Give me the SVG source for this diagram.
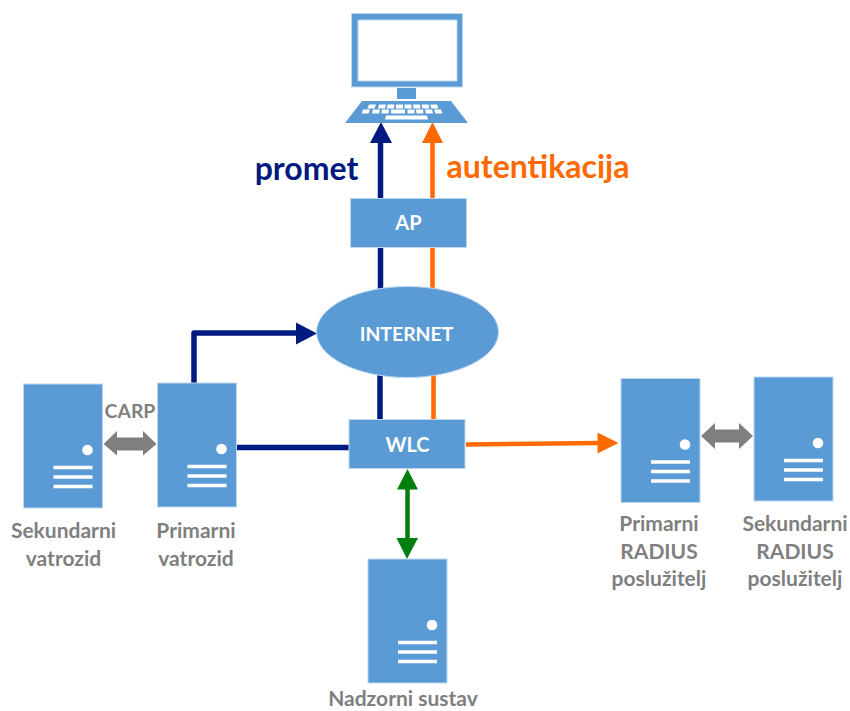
<svg xmlns="http://www.w3.org/2000/svg" xmlns:xlink="http://www.w3.org/1999/xlink" width="850" height="711" viewBox="0 0 850 711">
<style>
text{font-family:Lato,"Open Sans","Liberation Sans",sans-serif;font-weight:700;text-anchor:middle}
.w{fill:#fff;font-size:20px}
.g{fill:#7f7f7f;font-size:21px}
.b{fill:#5b9bd5;stroke:#bdd7ee;stroke-width:1}
.n{fill:none;stroke:#001a80;stroke-width:5.5;stroke-linejoin:round}
.o{fill:none;stroke:#ff6a00;stroke-width:4.5}
</style>
<defs>
<g id="srv">
<rect class="b" x="0" y="0" width="79" height="124"/>
<circle cx="64" cy="66" r="5.3" fill="#fff"/>
<path d="M30 83.5H69M30 93H69M30 102.5H69" stroke="#fff" stroke-width="3.5" fill="none"/>
</g>
</defs>
<g id="connectors">
<path class="n" d="M380.500 200V140"/>
<path fill="#001a80" d="M381 122L370 143H392Z"/>
<path class="o" d="M432.500 200V140"/>
<path fill="#ff6a00" d="M432.500 122L422 143H443Z"/>
<path class="n" d="M380.500 247V295"/>
<path class="o" d="M432.500 247V295"/>
<path class="n" d="M380 375V420"/>
<path class="o" d="M433.500 375V420"/>
<path class="n" d="M194 384V333H300"/>
<path fill="#001a80" d="M317 333.500L296 322.500V344.500Z"/>
<path class="n" d="M236 447.500H349"/>
<path class="o" d="M466 444.500L600 443"/>
<path fill="#ff6a00" d="M618.500 443L597.500 432.500V453.500Z"/>
<path fill="none" stroke="#007f0e" stroke-width="4.500" d="M407.500 485V545"/>
<path fill="#007f0e" d="M407.500 469L397 489.500H418Z"/>
<path fill="#007f0e" d="M407 559L396.500 538H418Z"/>
<path fill="#7f7f7f" d="M103.500 444L117 431V437.500H143V431L156.500 444L143 455.500V450.500H117V455.500Z"/>
<path fill="#7f7f7f" d="M701 436L715 423V429.500H739V423L753 436L739 449V442.500H715V449Z"/>
</g>
<g id="pc">
<path fill-rule="evenodd" fill="#5b9bd5" stroke="#bdd7ee" d="M351.500 13.500H462.500V87H351.500ZM358 20V81H457V20Z"/>
<rect x="397" y="88" width="19" height="11" fill="#5b9bd5"/>
<path fill="#5b9bd5" d="M362 101H451L468 123H345Z"/>
<path fill="#fff" d="M369 104.500h7l-1.500 4h-7zM379 104.500h7l-1 4h-7zM387.500 104.500h7l-.5 4h-7zM396 104.500h7v4h-7zM404.500 104.500h7v4h-7zM413 104.500h7l.5 4h-7zM421.500 104.500h7l1 4h-7zM430 104.500h7l1.500 4h-7zM363 109.500h7l-1.500 4h-7zM373 109.500h7l-1 4h-7zM382 109.500h7l-.5 4h-7zM391 109.500h7v4h-7zM398 109.500h7v4h-7zM407.500 109.500h7v4h-7zM416 109.500h7l.5 4h-7zM425 109.500h7l1 4h-7zM434 109.500h7l1.500 4h-7zM386 115.500h41l1 4h-43z"/>
</g>
<g id="ap"><rect class="b" x="350.500" y="198.500" width="116" height="49"/><text class="w" x="408.500" y="230">AP</text></g>
<g id="internet"><ellipse class="b" cx="407.500" cy="332" rx="91" ry="45.500"/><text class="w" x="406.500" y="341" style="font-size:19.400px">INTERNET</text></g>
<g id="wlc"><rect class="b" x="349" y="419.500" width="116" height="49"/><text class="w" x="407.500" y="452">WLC</text></g>
<g id="sec-fw"><use xlink:href="#srv" x="23.500" y="384"/><text class="g" x="63.500" y="538">Sekundarni</text><text class="g" x="63.500" y="566">vatrozid</text></g>
<g id="pri-fw"><use xlink:href="#srv" x="157.500" y="383"/><text class="g" x="196" y="538">Primarni</text><text class="g" x="196" y="566">vatrozid</text></g>
<g id="pri-radius"><use xlink:href="#srv" x="621" y="378.500"/><text class="g" x="659" y="531">Primarni</text><text class="g" x="659" y="558.500">RADIUS</text><text class="g" x="659" y="586">poslužitelj</text></g>
<g id="sec-radius"><use xlink:href="#srv" x="754" y="377"/><text class="g" x="795" y="531">Sekundarni</text><text class="g" x="795" y="558.500">RADIUS</text><text class="g" x="795" y="586">poslužitelj</text></g>
<g id="nadzorni"><use xlink:href="#srv" x="368" y="559"/><text class="g" x="403" y="706">Nadzorni sustav</text></g>
<text class="g" x="130" y="418" style="font-size:19.400px">CARP</text>
<text x="306.500" y="180" fill="#001a80" font-size="32">promet</text>
<text x="538" y="178" fill="#ff6a00" font-size="32">autentikacija</text>
</svg>
